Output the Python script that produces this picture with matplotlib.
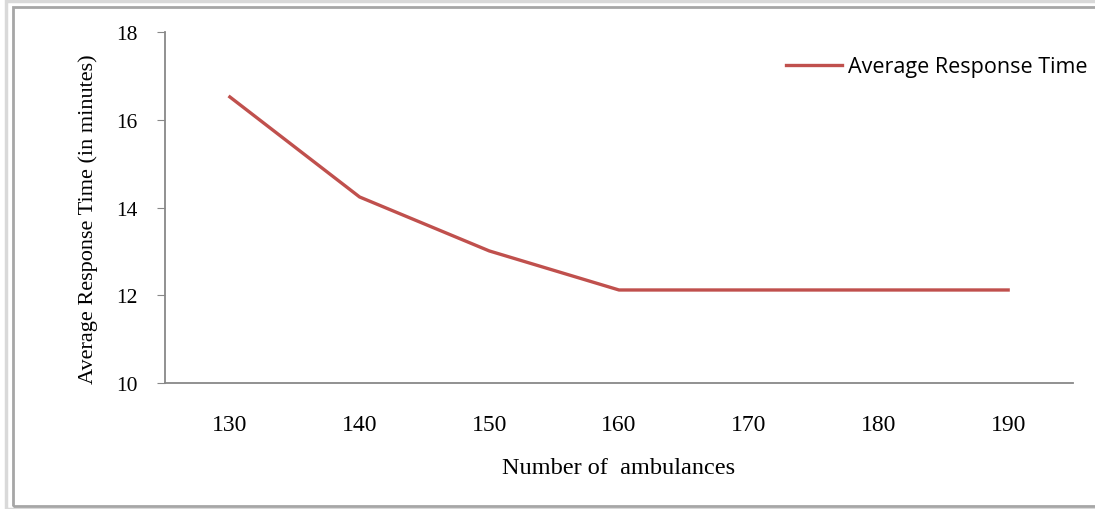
import matplotlib.pyplot as plt
from matplotlib.patches import Rectangle

ambulances = ['130', '140', '150', '160', '170', '180', '190']
response_time = [16.52, 14.24, 13.01, 12.12, 12.12, 12.12, 12.12]

fig = plt.figure(figsize=(10.95, 5.10), dpi=100)
W, H = 1095, 510

# outer frames (light + darker gray)
fig.patches.append(Rectangle((6 / W, 0), 1.2, 1 - 2 / H, transform=fig.transFigure,
                             fill=False, edgecolor='#d9d9d9', linewidth=2.5))
fig.patches.append(Rectangle((13 / W, 1 - 507 / H), 1.2, (507 - 8) / H,
                             transform=fig.transFigure, fill=False,
                             edgecolor='#a6a6a6', linewidth=2))

ax = fig.add_axes([165 / W, 1 - 384 / H, (1073 - 165) / W, (384 - 33) / H])
x = range(len(ambulances))
ax.plot(x, response_time, color='#C0504D', linewidth=2.4, label='Average Response Time')

ax.set_xlim(-0.5, len(ambulances) - 0.5)
ax.set_ylim(10, 18)
ax.set_yticks([10, 12, 14, 16, 18])
ax.set_xticks(list(x))
ax.set_xticklabels(ambulances)

serif = 'Liberation Serif'
for lab in ax.get_xticklabels():
    lab.set_fontfamily(serif)
    lab.set_fontsize(17)
for lab in ax.get_yticklabels():
    lab.set_fontfamily(serif)
    lab.set_fontsize(15.5)
ax.tick_params(axis='x', length=0, pad=22)
ax.tick_params(axis='y', length=6, color='#888888', pad=14, direction='out')

for s in ['top', 'right']:
    ax.spines[s].set_visible(False)
for s in ['left', 'bottom']:
    ax.spines[s].set_color('#888888')
    ax.spines[s].set_linewidth(1.3)

ax.set_xlabel('Number of  ambulances', fontfamily=serif, fontsize=17.5, labelpad=16)
ax.set_ylabel('Average Response Time (in minutes)', fontfamily=serif, fontsize=16)
ax.yaxis.set_label_coords(-0.074, 0.47)

leg = fig.legend(loc='center left', bbox_to_anchor=(767 / W, 1 - 68 / H),
                 frameon=False, prop={'family': 'Open Sans', 'size': 15.5},
                 handlelength=2.6, handletextpad=0.25)

fig.savefig('out.png', dpi=100)
